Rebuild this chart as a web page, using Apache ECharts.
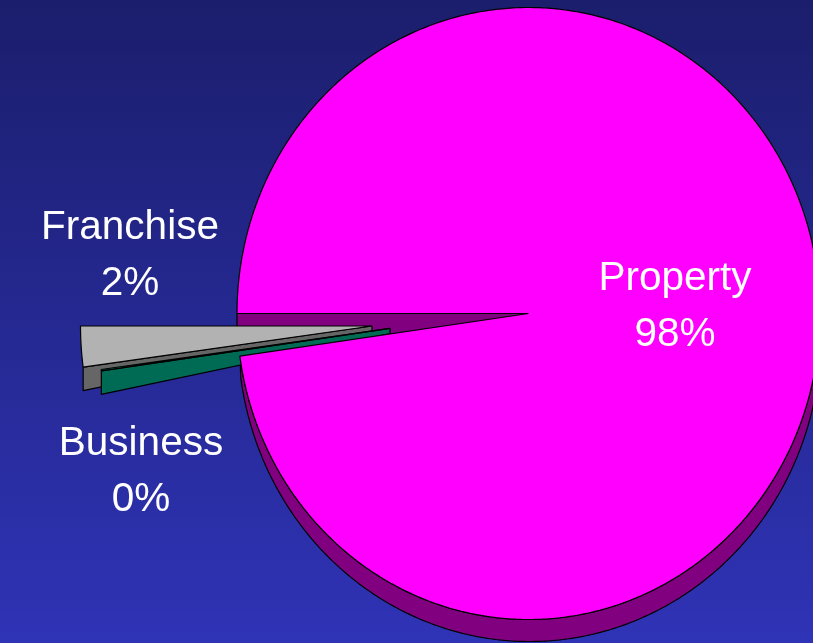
<!DOCTYPE html>
<html>
<head>
<meta charset="utf-8">
<style>html,body{margin:0;padding:0;background:#1c1f70}#chart{width:813px;height:643px}</style>
<script src="https://cdn.jsdelivr.net/npm/echarts@6/dist/echarts.min.js"></script>
</head>
<body>
<div id="chart"></div>
<script>
// Revenue shares, listed clockwise-from-the-left as the slices are laid out.
const sliceNames = ['Franchise', 'Business', 'Property'];
const sliceValues = [2.15, 0.07, 97.78];

const faceColors = ['#b2b2b2', '#008066', '#ff00ff'];
const wallColors = ['#666666', '#006b54', '#800080'];

// Tilted pie geometry.
const pie = { cx: 528.5, cy: 313.5, rx: 291.5, ry: 306 };
const rimShift = { x: 1, y: 22 };
const explodeOffset = [[-156.5, 12.5], [-138.5, 14.8], [0, 0]];
const wallDepth = { apex: 5.2, outer: 23.5 };
const labelAnchor = [[130, 256], [141, 472], [675, 307]];

const total = sliceValues.reduce((a, b) => a + b, 0);
const toAngle = v => echarts.number.linearMap(v, [0, total], [0, Math.PI * 2]);

function rimPoint(t, cx, cy, rx, ry) {
  return [cx - rx * Math.cos(t), cy + ry * Math.sin(t)];
}
function arcPoints(from, to, cx, cy, rx, ry) {
  const steps = Math.max(2, Math.ceil(Math.abs(to - from) / 0.01));
  const pts = [];
  for (let i = 0; i <= steps; i++) {
    pts.push(rimPoint(from + (to - from) * i / steps, cx, cy, rx, ry));
  }
  return pts;
}
const edge = { stroke: '#000', lineWidth: 1.2, lineJoin: 'bevel' };
const poly = (points, fill, z2) => ({
  type: 'polygon', z2, shape: { points }, style: Object.assign({ fill }, edge)
});

function renderSlice(params, api) {
  const i = params.dataIndex;
  const before = sliceValues.slice(0, i).reduce((a, b) => a + b, 0);
  const t0 = toAngle(before);
  const t1 = toAngle(before + api.value(0));
  const ax = pie.cx + explodeOffset[i][0];
  const ay = pie.cy + explodeOffset[i][1];
  const children = [];

  if (i === sliceNames.length - 1) {
    // Large slice: side wall along the visible lower rim, then the cut face
    // behind the gap, with the top face drawn last so it covers both.
    const upper = arcPoints(t0, Math.PI, ax, ay, pie.rx, pie.ry);
    const lower = arcPoints(Math.PI, t0, ax + rimShift.x, ay + rimShift.y, pie.rx, pie.ry);
    children.push(poly(upper.concat(lower), wallColors[i], 1));
    const s = rimPoint(t1 % (Math.PI * 2), ax, ay, pie.rx, pie.ry);
    children.push(poly([[ax, ay], s, [s[0], s[1] + rimShift.y], [ax, ay + rimShift.y]], wallColors[i], 2));
    const face = [[ax, ay]].concat(arcPoints(t0, t1, ax, ay, pie.rx, pie.ry));
    children.push(poly(face, faceColors[i], 20));
  } else {
    // Pulled-out slice: tapered wall under its lower radial edge plus the top face.
    const outer = rimPoint(t1, ax, ay, pie.rx, pie.ry);
    children.push(poly([
      [ax, ay], [ax, ay + wallDepth.apex],
      [outer[0], outer[1] + wallDepth.outer], outer
    ], wallColors[i], 5 + i * 2));
    const face = [[ax, ay]].concat(arcPoints(t0, t1, ax, ay, pie.rx, pie.ry));
    children.push(poly(face, faceColors[i], 10 - i * 2));
  }

  const share = Math.round(api.value(0) / total * 100);
  children.push({
    type: 'text', z2: 30,
    style: {
      x: labelAnchor[i][0], y: labelAnchor[i][1],
      text: sliceNames[i] + '\n' + share + '%',
      fill: '#ffffff', fontFamily: '"Liberation Sans", Arial, sans-serif',
      fontSize: 40.5, lineHeight: 56, align: 'center', verticalAlign: 'middle'
    }
  });
  return { type: 'group', children };
}

const chart = echarts.init(document.getElementById('chart'), null, { renderer: 'canvas' });
chart.setOption({
  animation: false,
  backgroundColor: {
    type: 'linear', x: 0, y: 0, x2: 0, y2: 1,
    colorStops: [{ offset: 0, color: '#1b1e6c' }, { offset: 1, color: '#2f33b6' }]
  },
  series: [{
    type: 'custom',
    coordinateSystem: 'none',
    silent: true,
    clip: false,
    data: sliceValues.map((v, i) => ({ name: sliceNames[i], value: [v] })),
    renderItem: renderSlice
  }]
});
</script>
</body>
</html>
